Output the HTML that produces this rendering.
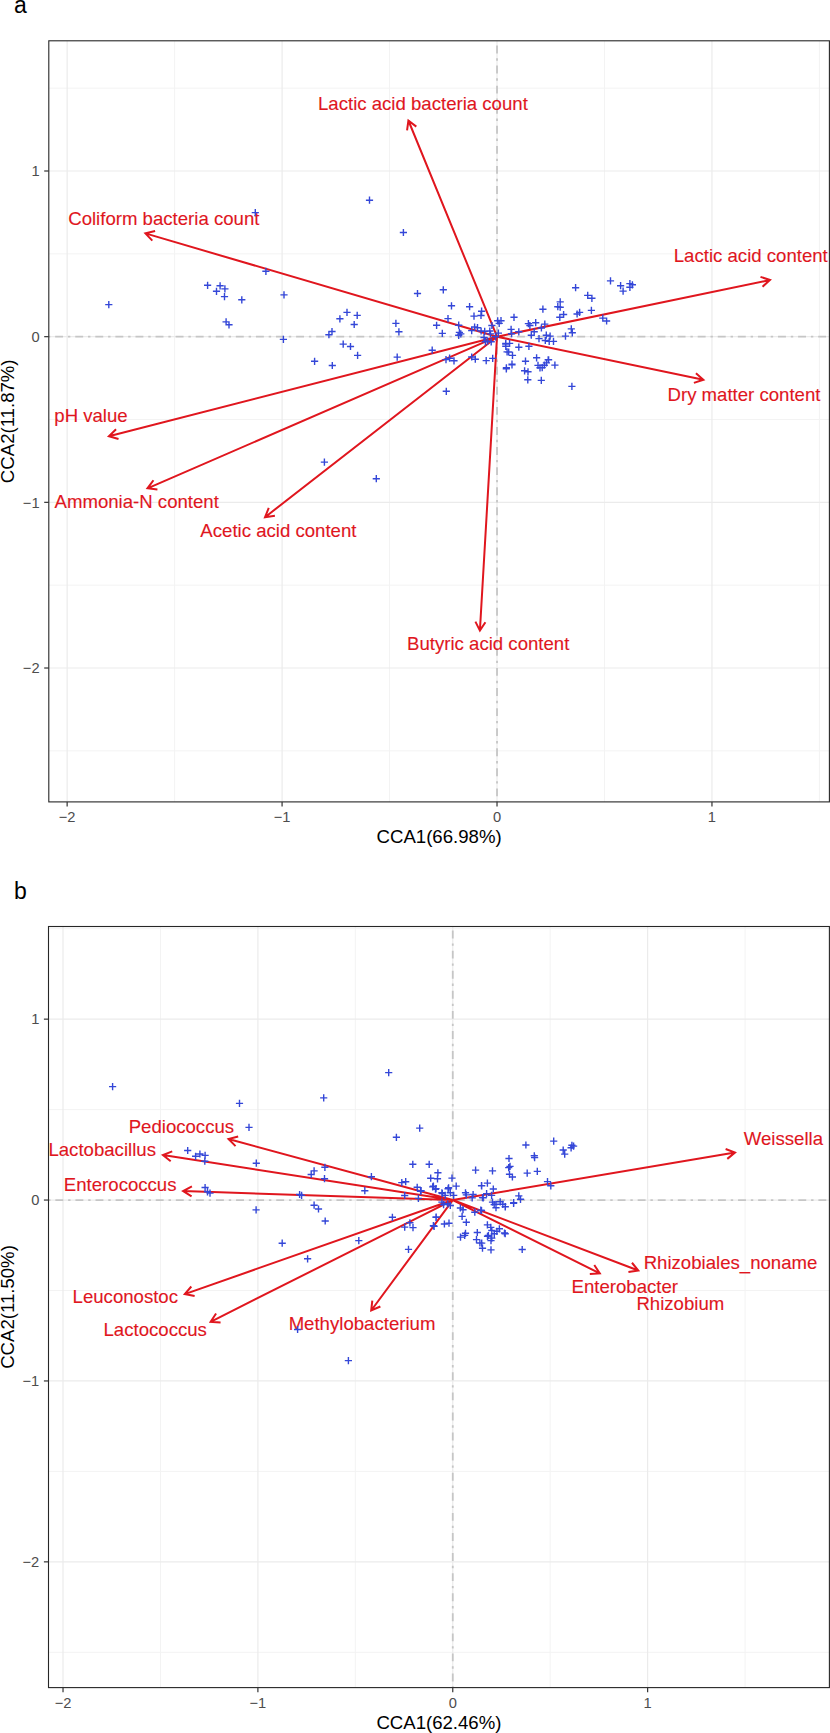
<!DOCTYPE html><html><head><meta charset="utf-8"><style>html,body{margin:0;padding:0;background:#fff;}svg{display:block}</style></head><body>
<svg width="830" height="1733" viewBox="0 0 830 1733" font-family="'Liberation Sans', sans-serif">
<rect width="830" height="1733" fill="#fff"/>
<clipPath id="clipa"><rect x="48.8" y="40.8" width="780.6" height="761.1"/></clipPath>
<g clip-path="url(#clipa)">
<line x1="174.61" y1="40.8" x2="174.61" y2="801.9" stroke="#F3F3F3" stroke-width="1"/>
<line x1="389.55" y1="40.8" x2="389.55" y2="801.9" stroke="#F3F3F3" stroke-width="1"/>
<line x1="604.49" y1="40.8" x2="604.49" y2="801.9" stroke="#F3F3F3" stroke-width="1"/>
<line x1="819.43" y1="40.8" x2="819.43" y2="801.9" stroke="#F3F3F3" stroke-width="1"/>
<line x1="48.8" y1="88.17" x2="829.4" y2="88.17" stroke="#F3F3F3" stroke-width="1"/>
<line x1="48.8" y1="253.84" x2="829.4" y2="253.84" stroke="#F3F3F3" stroke-width="1"/>
<line x1="48.8" y1="419.50" x2="829.4" y2="419.50" stroke="#F3F3F3" stroke-width="1"/>
<line x1="48.8" y1="585.17" x2="829.4" y2="585.17" stroke="#F3F3F3" stroke-width="1"/>
<line x1="48.8" y1="750.85" x2="829.4" y2="750.85" stroke="#F3F3F3" stroke-width="1"/>
<line x1="67.14" y1="40.8" x2="67.14" y2="801.9" stroke="#EBEBEB" stroke-width="1.2"/>
<line x1="282.08" y1="40.8" x2="282.08" y2="801.9" stroke="#EBEBEB" stroke-width="1.2"/>
<line x1="497.02" y1="40.8" x2="497.02" y2="801.9" stroke="#EBEBEB" stroke-width="1.2"/>
<line x1="711.96" y1="40.8" x2="711.96" y2="801.9" stroke="#EBEBEB" stroke-width="1.2"/>
<line x1="48.8" y1="171.00" x2="829.4" y2="171.00" stroke="#EBEBEB" stroke-width="1.2"/>
<line x1="48.8" y1="336.67" x2="829.4" y2="336.67" stroke="#EBEBEB" stroke-width="1.2"/>
<line x1="48.8" y1="502.34" x2="829.4" y2="502.34" stroke="#EBEBEB" stroke-width="1.2"/>
<line x1="48.8" y1="668.01" x2="829.4" y2="668.01" stroke="#EBEBEB" stroke-width="1.2"/>
<line x1="48.8" y1="336.67" x2="829.4" y2="336.67" stroke="#C6C6C6" stroke-width="1.8" stroke-dasharray="2.4 4.9 7.9 4.88" stroke-dashoffset="0.95"/>
<line x1="497.02" y1="801.9" x2="497.02" y2="40.8" stroke="#C6C6C6" stroke-width="1.8" stroke-dasharray="2.4 4.9 7.9 4.88" stroke-dashoffset="1.75"/>
<path d="M497.02 336.67L408.40 120.50M416.31 126.62L408.40 120.50L407.06 130.41M497.02 336.67L145.40 233.40M155.12 231.04L145.40 233.40L152.30 240.64M497.02 336.67L770.00 280.00M762.54 286.66L770.00 280.00L760.50 276.86M497.02 336.67L703.40 379.80M693.90 382.92L703.40 379.80L695.95 373.13M497.02 336.67L108.90 436.30M116.05 429.30L108.90 436.30L118.53 438.99M497.02 336.67L147.50 488.30M153.45 480.27L147.50 488.30L157.43 489.44M497.02 336.67L265.00 517.20M268.76 507.94L265.00 517.20L274.91 515.83M497.02 336.67L479.90 630.60M475.41 621.66L479.90 630.60L485.40 622.25" stroke="#E0161E" stroke-width="2.0" fill="none" stroke-linecap="butt" stroke-linejoin="miter"/>
<text x="422.9" y="110.4" font-size="18.6" fill="#E0161E" stroke="#E0161E" stroke-width="0.12" text-anchor="middle">Lactic acid bacteria count</text>
<text x="163.8" y="225.3" font-size="18.6" fill="#E0161E" stroke="#E0161E" stroke-width="0.12" text-anchor="middle">Coliform bacteria count</text>
<text x="750.8" y="261.8" font-size="18.6" fill="#E0161E" stroke="#E0161E" stroke-width="0.12" text-anchor="middle">Lactic acid content</text>
<text x="744.0" y="400.6" font-size="18.6" fill="#E0161E" stroke="#E0161E" stroke-width="0.12" text-anchor="middle">Dry matter content</text>
<text x="91.0" y="421.6" font-size="18.6" fill="#E0161E" stroke="#E0161E" stroke-width="0.12" text-anchor="middle">pH value</text>
<text x="136.7" y="507.6" font-size="18.6" fill="#E0161E" stroke="#E0161E" stroke-width="0.12" text-anchor="middle">Ammonia-N content</text>
<text x="278.4" y="536.5" font-size="18.6" fill="#E0161E" stroke="#E0161E" stroke-width="0.12" text-anchor="middle">Acetic acid content</text>
<text x="488.2" y="650.4" font-size="18.6" fill="#E0161E" stroke="#E0161E" stroke-width="0.12" text-anchor="middle">Butyric acid content</text>
<path d="M365.9 200.2h7.2M369.5 196.6v7.2M399.8 232.5h7.2M403.4 228.9v7.2M251.7 212.6h7.2M255.3 209.0v7.2M320.8 462.1h7.2M324.4 458.5v7.2M372.7 478.7h7.2M376.3 475.1v7.2M442.7 391.3h7.2M446.3 387.7v7.2M105.2 304.6h7.2M108.8 301.0v7.2M204.0 285.3h7.2M207.6 281.7v7.2M212.9 291.3h7.2M216.5 287.7v7.2M216.5 285.8h7.2M220.1 282.2v7.2M221.3 288.9h7.2M224.9 285.3v7.2M220.9 296.6h7.2M224.5 293.0v7.2M238.2 299.8h7.2M241.8 296.2v7.2M262.3 271.3h7.2M265.9 267.7v7.2M280.4 294.9h7.2M284.0 291.3v7.2M222.5 321.9h7.2M226.1 318.3v7.2M225.4 324.8h7.2M229.0 321.2v7.2M279.8 339.4h7.2M283.4 335.8v7.2M413.9 293.5h7.2M417.5 289.9v7.2M343.4 312.4h7.2M347.0 308.8v7.2M353.6 315.4h7.2M357.2 311.8v7.2M336.3 318.8h7.2M339.9 315.2v7.2M350.6 324.5h7.2M354.2 320.9v7.2M392.3 323.4h7.2M395.9 319.8v7.2M395.3 331.8h7.2M398.9 328.2v7.2M328.4 331.5h7.2M332.0 327.9v7.2M325.3 334.7h7.2M328.9 331.1v7.2M339.6 344.1h7.2M343.2 340.5v7.2M346.9 346.5h7.2M350.5 342.9v7.2M354.0 355.4h7.2M357.6 351.8v7.2M393.6 357.1h7.2M397.2 353.5v7.2M311.0 361.3h7.2M314.6 357.7v7.2M328.7 365.5h7.2M332.3 361.9v7.2M439.7 289.8h7.2M443.3 286.2v7.2M447.9 305.8h7.2M451.5 302.2v7.2M466.0 306.7h7.2M469.6 303.1v7.2M478.0 311.2h7.2M481.6 307.6v7.2M470.4 316.1h7.2M474.0 312.5v7.2M477.4 315.5h7.2M481.0 311.9v7.2M444.4 318.6h7.2M448.0 315.0v7.2M433.0 325.3h7.2M436.6 321.7v7.2M438.7 333.4h7.2M442.3 329.8v7.2M428.6 350.2h7.2M432.2 346.6v7.2M494.1 320.8h7.2M497.7 317.2v7.2M495.6 323.4h7.2M499.2 319.8v7.2M488.3 325.5h7.2M491.9 321.9v7.2M455.1 325.2h7.2M458.7 321.6v7.2M471.0 327.0h7.2M474.6 323.4v7.2M473.9 327.7h7.2M477.5 324.1v7.2M468.1 330.6h7.2M471.7 327.0v7.2M477.5 331.0h7.2M481.1 327.4v7.2M481.1 331.3h7.2M484.7 327.7v7.2M486.2 331.0h7.2M489.8 327.4v7.2M486.9 333.9h7.2M490.5 330.3v7.2M494.8 333.1h7.2M498.4 329.5v7.2M455.8 332.4h7.2M459.4 328.8v7.2M455.1 335.3h7.2M458.7 331.7v7.2M457.2 333.9h7.2M460.8 330.3v7.2M480.4 337.5h7.2M484.0 333.9v7.2M484.0 341.1h7.2M487.6 337.5v7.2M487.6 341.8h7.2M491.2 338.2v7.2M481.8 341.8h7.2M485.4 338.2v7.2M492.0 336.8h7.2M495.6 333.2v7.2M502.1 344.0h7.2M505.7 340.4v7.2M503.5 351.9h7.2M507.1 348.3v7.2M442.4 359.6h7.2M446.0 356.0v7.2M446.0 358.2h7.2M449.6 354.6v7.2M450.4 360.8h7.2M454.0 357.2v7.2M468.1 357.0h7.2M471.7 353.4v7.2M471.7 359.2h7.2M475.3 355.6v7.2M482.6 360.6h7.2M486.2 357.0v7.2M489.1 358.4h7.2M492.7 354.8v7.2M502.8 367.8h7.2M506.4 364.2v7.2M556.6 301.9h7.2M560.2 298.3v7.2M554.2 306.7h7.2M557.8 303.1v7.2M556.6 307.2h7.2M560.2 303.6v7.2M539.3 309.2h7.2M542.9 305.6v7.2M573.5 314.0h7.2M577.1 310.4v7.2M560.0 314.5h7.2M563.6 310.9v7.2M556.2 317.3h7.2M559.8 313.7v7.2M510.4 317.3h7.2M514.0 313.7v7.2M497.4 320.7h7.2M501.0 317.1v7.2M524.8 323.6h7.2M528.4 320.0v7.2M526.3 325.5h7.2M529.9 321.9v7.2M532.1 322.7h7.2M535.7 319.1v7.2M541.2 324.1h7.2M544.8 320.5v7.2M537.8 328.0h7.2M541.4 324.4v7.2M567.7 328.9h7.2M571.3 325.3v7.2M568.7 332.8h7.2M572.3 329.2v7.2M507.5 329.4h7.2M511.1 325.8v7.2M515.2 331.8h7.2M518.8 328.2v7.2M508.0 333.7h7.2M511.6 330.1v7.2M530.6 331.8h7.2M534.2 328.2v7.2M527.7 335.2h7.2M531.3 331.6v7.2M542.7 335.2h7.2M546.3 331.6v7.2M546.5 336.1h7.2M550.1 332.5v7.2M561.9 336.1h7.2M565.5 332.5v7.2M535.4 338.6h7.2M539.0 335.0v7.2M541.7 340.5h7.2M545.3 336.9v7.2M545.6 341.4h7.2M549.2 337.8v7.2M549.9 341.4h7.2M553.5 337.8v7.2M502.2 343.4h7.2M505.8 339.8v7.2M506.0 343.4h7.2M509.6 339.8v7.2M502.2 346.3h7.2M505.8 342.7v7.2M515.2 347.2h7.2M518.8 343.6v7.2M525.3 346.3h7.2M528.9 342.7v7.2M505.1 352.0h7.2M508.7 348.4v7.2M508.9 355.4h7.2M512.5 351.8v7.2M533.0 357.8h7.2M536.6 354.2v7.2M544.6 359.8h7.2M548.2 356.2v7.2M521.9 361.2h7.2M525.5 357.6v7.2M508.4 364.1h7.2M512.0 360.5v7.2M551.3 365.1h7.2M554.9 361.5v7.2M534.4 365.4h7.2M538.0 361.8v7.2M536.4 367.8h7.2M540.0 364.2v7.2M538.6 367.6h7.2M542.2 364.0v7.2M540.7 365.2h7.2M544.3 361.6v7.2M542.8 362.9h7.2M546.4 359.3v7.2M545.0 359.8h7.2M548.6 356.2v7.2M502.7 368.9h7.2M506.3 365.3v7.2M521.0 370.8h7.2M524.6 367.2v7.2M524.4 371.8h7.2M528.0 368.2v7.2M524.2 379.8h7.2M527.8 376.2v7.2M537.7 380.4h7.2M541.3 376.8v7.2M572.0 287.7h7.2M575.6 284.1v7.2M584.1 295.4h7.2M587.7 291.8v7.2M588.3 298.3h7.2M591.9 294.7v7.2M606.9 280.9h7.2M610.5 277.3v7.2M617.0 285.7h7.2M620.6 282.1v7.2M619.5 291.1h7.2M623.1 287.5v7.2M626.3 283.6h7.2M629.9 280.0v7.2M628.8 284.8h7.2M632.4 281.2v7.2M626.3 287.3h7.2M629.9 283.7v7.2M576.0 312.4h7.2M579.6 308.8v7.2M587.8 310.4h7.2M591.4 306.8v7.2M599.2 318.1h7.2M602.8 314.5v7.2M603.0 321.0h7.2M606.6 317.4v7.2M568.3 386.4h7.2M571.9 382.8v7.2M508.4 364.8h7.2M512.0 361.2v7.2" stroke="#3447D8" stroke-width="1.4" fill="none"/>
</g>
<rect x="48.8" y="40.8" width="780.6" height="761.1" fill="none" stroke="#262626" stroke-width="1.1"/>
<line x1="67.14" y1="801.9" x2="67.14" y2="806.5" stroke="#333" stroke-width="1.2"/>
<text x="67.14" y="821.9" font-size="14.7" fill="#4D4D4D" text-anchor="middle">−2</text>
<line x1="282.08" y1="801.9" x2="282.08" y2="806.5" stroke="#333" stroke-width="1.2"/>
<text x="282.08" y="821.9" font-size="14.7" fill="#4D4D4D" text-anchor="middle">−1</text>
<line x1="497.02" y1="801.9" x2="497.02" y2="806.5" stroke="#333" stroke-width="1.2"/>
<text x="497.02" y="821.9" font-size="14.7" fill="#4D4D4D" text-anchor="middle">0</text>
<line x1="711.96" y1="801.9" x2="711.96" y2="806.5" stroke="#333" stroke-width="1.2"/>
<text x="711.96" y="821.9" font-size="14.7" fill="#4D4D4D" text-anchor="middle">1</text>
<line x1="44.199999999999996" y1="171.00" x2="48.8" y2="171.00" stroke="#333" stroke-width="1.2"/>
<text x="39.599999999999994" y="176.20" font-size="14.7" fill="#4D4D4D" text-anchor="end">1</text>
<line x1="44.199999999999996" y1="336.67" x2="48.8" y2="336.67" stroke="#333" stroke-width="1.2"/>
<text x="39.599999999999994" y="341.87" font-size="14.7" fill="#4D4D4D" text-anchor="end">0</text>
<line x1="44.199999999999996" y1="502.34" x2="48.8" y2="502.34" stroke="#333" stroke-width="1.2"/>
<text x="39.599999999999994" y="507.54" font-size="14.7" fill="#4D4D4D" text-anchor="end">−1</text>
<line x1="44.199999999999996" y1="668.01" x2="48.8" y2="668.01" stroke="#333" stroke-width="1.2"/>
<text x="39.599999999999994" y="673.21" font-size="14.7" fill="#4D4D4D" text-anchor="end">−2</text>
<text x="439.1" y="843.0" font-size="18.6" fill="#000" text-anchor="middle">CCA1(66.98%)</text>
<text transform="translate(14.4 421.3) rotate(-90)" x="0" y="0" font-size="18.6" fill="#000" text-anchor="middle">CCA2(11.87%)</text>
<text x="14" y="13" font-size="23" fill="#000">a</text>
<clipPath id="clipb"><rect x="48.5" y="926.5" width="780.9" height="761.0999999999999"/></clipPath>
<g clip-path="url(#clipb)">
<line x1="160.45" y1="926.5" x2="160.45" y2="1687.6" stroke="#F3F3F3" stroke-width="1"/>
<line x1="355.32" y1="926.5" x2="355.32" y2="1687.6" stroke="#F3F3F3" stroke-width="1"/>
<line x1="550.19" y1="926.5" x2="550.19" y2="1687.6" stroke="#F3F3F3" stroke-width="1"/>
<line x1="745.07" y1="926.5" x2="745.07" y2="1687.6" stroke="#F3F3F3" stroke-width="1"/>
<line x1="48.5" y1="928.70" x2="829.4" y2="928.70" stroke="#F3F3F3" stroke-width="1"/>
<line x1="48.5" y1="1109.60" x2="829.4" y2="1109.60" stroke="#F3F3F3" stroke-width="1"/>
<line x1="48.5" y1="1290.50" x2="829.4" y2="1290.50" stroke="#F3F3F3" stroke-width="1"/>
<line x1="48.5" y1="1471.40" x2="829.4" y2="1471.40" stroke="#F3F3F3" stroke-width="1"/>
<line x1="48.5" y1="1652.30" x2="829.4" y2="1652.30" stroke="#F3F3F3" stroke-width="1"/>
<line x1="63.02" y1="926.5" x2="63.02" y2="1687.6" stroke="#EBEBEB" stroke-width="1.2"/>
<line x1="257.89" y1="926.5" x2="257.89" y2="1687.6" stroke="#EBEBEB" stroke-width="1.2"/>
<line x1="452.76" y1="926.5" x2="452.76" y2="1687.6" stroke="#EBEBEB" stroke-width="1.2"/>
<line x1="647.63" y1="926.5" x2="647.63" y2="1687.6" stroke="#EBEBEB" stroke-width="1.2"/>
<line x1="48.5" y1="1019.15" x2="829.4" y2="1019.15" stroke="#EBEBEB" stroke-width="1.2"/>
<line x1="48.5" y1="1200.05" x2="829.4" y2="1200.05" stroke="#EBEBEB" stroke-width="1.2"/>
<line x1="48.5" y1="1380.95" x2="829.4" y2="1380.95" stroke="#EBEBEB" stroke-width="1.2"/>
<line x1="48.5" y1="1561.85" x2="829.4" y2="1561.85" stroke="#EBEBEB" stroke-width="1.2"/>
<line x1="48.5" y1="1200.05" x2="829.4" y2="1200.05" stroke="#C6C6C6" stroke-width="1.8" stroke-dasharray="2.4 4.9 7.9 4.88" stroke-dashoffset="0.45"/>
<line x1="452.76" y1="1687.6" x2="452.76" y2="926.5" stroke="#C6C6C6" stroke-width="1.8" stroke-dasharray="2.4 4.9 7.9 4.88" stroke-dashoffset="1.15"/>
<path d="M452.76 1200.05L228.50 1139.00M238.17 1136.45L228.50 1139.00L235.54 1146.10M452.76 1200.05L162.90 1155.00M172.23 1151.39L162.90 1155.00L170.69 1161.27M452.76 1200.05L183.10 1191.10M191.92 1186.39L183.10 1191.10L191.59 1196.38M452.76 1200.05L735.00 1152.50M727.29 1158.87L735.00 1152.50L725.63 1149.01M452.76 1200.05L638.30 1270.50M628.43 1272.10L638.30 1270.50L631.98 1262.75M452.76 1200.05L599.80 1273.40M589.82 1274.01L599.80 1273.40L594.28 1265.06M452.76 1200.05L184.80 1294.10M191.32 1286.51L184.80 1294.10L194.63 1295.95M452.76 1200.05L210.60 1321.80M216.09 1313.44L210.60 1321.80L220.58 1322.38M452.76 1200.05L371.20 1310.50M372.32 1300.56L371.20 1310.50L380.37 1306.50" stroke="#E0161E" stroke-width="2.0" fill="none" stroke-linecap="butt" stroke-linejoin="miter"/>
<text x="181.4" y="1133.3" font-size="18.6" fill="#E0161E" stroke="#E0161E" stroke-width="0.12" text-anchor="middle">Pediococcus</text>
<text x="102.2" y="1156.4" font-size="18.6" fill="#E0161E" stroke="#E0161E" stroke-width="0.12" text-anchor="middle">Lactobacillus</text>
<text x="120.2" y="1190.5" font-size="18.6" fill="#E0161E" stroke="#E0161E" stroke-width="0.12" text-anchor="middle">Enterococcus</text>
<text x="783.4" y="1145.4" font-size="18.6" fill="#E0161E" stroke="#E0161E" stroke-width="0.12" text-anchor="middle">Weissella</text>
<text x="730.5" y="1268.8" font-size="18.6" fill="#E0161E" stroke="#E0161E" stroke-width="0.12" text-anchor="middle">Rhizobiales_noname</text>
<text x="624.8" y="1292.9" font-size="18.6" fill="#E0161E" stroke="#E0161E" stroke-width="0.12" text-anchor="middle">Enterobacter</text>
<text x="680.3" y="1310.2" font-size="18.6" fill="#E0161E" stroke="#E0161E" stroke-width="0.12" text-anchor="middle">Rhizobium</text>
<text x="125.3" y="1302.5" font-size="18.6" fill="#E0161E" stroke="#E0161E" stroke-width="0.12" text-anchor="middle">Leuconostoc</text>
<text x="155.2" y="1336.3" font-size="18.6" fill="#E0161E" stroke="#E0161E" stroke-width="0.12" text-anchor="middle">Lactococcus</text>
<text x="362.0" y="1330.2" font-size="18.6" fill="#E0161E" stroke="#E0161E" stroke-width="0.12" text-anchor="middle">Methylobacterium</text>
<path d="M109.0 1086.6h7.2M112.6 1083.0v7.2M235.9 1103.4h7.2M239.5 1099.8v7.2M245.4 1127.4h7.2M249.0 1123.8v7.2M184.1 1150.5h7.2M187.7 1146.9v7.2M192.0 1156.3h7.2M195.6 1152.7v7.2M196.3 1154.0h7.2M199.9 1150.4v7.2M201.5 1155.4h7.2M205.1 1151.8v7.2M201.2 1161.2h7.2M204.8 1157.6v7.2M252.7 1163.2h7.2M256.3 1159.6v7.2M201.5 1187.5h7.2M205.1 1183.9v7.2M203.9 1191.8h7.2M207.5 1188.2v7.2M206.4 1193.1h7.2M210.0 1189.5v7.2M252.5 1209.9h7.2M256.1 1206.3v7.2M320.1 1097.9h7.2M323.7 1094.3v7.2M321.3 1167.3h7.2M324.9 1163.7v7.2M310.5 1170.9h7.2M314.1 1167.3v7.2M307.6 1174.5h7.2M311.2 1170.9v7.2M320.9 1178.7h7.2M324.5 1175.1v7.2M296.0 1194.5h7.2M299.6 1190.9v7.2M298.0 1195.4h7.2M301.6 1191.8v7.2M310.5 1205.2h7.2M314.1 1201.6v7.2M314.9 1209.0h7.2M318.5 1205.4v7.2M321.6 1221.0h7.2M325.2 1217.4v7.2M278.6 1243.2h7.2M282.2 1239.6v7.2M304.0 1258.8h7.2M307.6 1255.2v7.2M385.1 1072.6h7.2M388.7 1069.0v7.2M416.1 1128.1h7.2M419.7 1124.5v7.2M392.8 1137.3h7.2M396.4 1133.7v7.2M409.2 1164.3h7.2M412.8 1160.7v7.2M425.6 1164.3h7.2M429.2 1160.7v7.2M434.3 1172.8h7.2M437.9 1169.2v7.2M427.1 1178.2h7.2M430.7 1174.6v7.2M433.9 1178.8h7.2M437.5 1175.2v7.2M367.8 1176.7h7.2M371.4 1173.1v7.2M361.2 1190.7h7.2M364.8 1187.1v7.2M398.2 1182.6h7.2M401.8 1179.0v7.2M402.1 1181.7h7.2M405.7 1178.1v7.2M413.6 1187.3h7.2M417.2 1183.7v7.2M417.5 1190.7h7.2M421.1 1187.1v7.2M401.1 1195.5h7.2M404.7 1191.9v7.2M414.8 1198.4h7.2M418.4 1194.8v7.2M417.0 1191.3h7.2M420.6 1187.7v7.2M429.1 1186.9h7.2M432.7 1183.3v7.2M431.9 1189.2h7.2M435.5 1185.6v7.2M438.7 1193.6h7.2M442.3 1190.0v7.2M444.5 1188.8h7.2M448.1 1185.2v7.2M448.4 1178.1h7.2M452.0 1174.5v7.2M472.0 1170.1h7.2M475.6 1166.5v7.2M452.6 1186.1h7.2M456.2 1182.5v7.2M429.8 1186.1h7.2M433.4 1182.5v7.2M432.4 1188.6h7.2M436.0 1185.0v7.2M445.0 1187.8h7.2M448.6 1184.2v7.2M446.7 1192.8h7.2M450.3 1189.2v7.2M438.3 1192.8h7.2M441.9 1189.2v7.2M450.1 1195.4h7.2M453.7 1191.8v7.2M441.6 1195.4h7.2M445.2 1191.8v7.2M477.9 1185.7h7.2M481.5 1182.1v7.2M483.8 1183.1h7.2M487.4 1179.5v7.2M489.7 1189.0h7.2M493.3 1185.4v7.2M461.9 1192.8h7.2M465.5 1189.2v7.2M462.7 1194.9h7.2M466.3 1191.3v7.2M469.5 1194.5h7.2M473.1 1190.9v7.2M468.6 1197.9h7.2M472.2 1194.3v7.2M479.6 1197.9h7.2M483.2 1194.3v7.2M483.0 1193.7h7.2M486.6 1190.1v7.2M488.0 1195.4h7.2M491.6 1191.8v7.2M488.9 1202.1h7.2M492.5 1198.5v7.2M490.6 1204.6h7.2M494.2 1201.0v7.2M438.3 1202.1h7.2M441.9 1198.5v7.2M440.0 1204.6h7.2M443.6 1201.0v7.2M444.2 1203.8h7.2M447.8 1200.2v7.2M446.7 1205.5h7.2M450.3 1201.9v7.2M456.8 1208.0h7.2M460.4 1204.4v7.2M459.4 1209.7h7.2M463.0 1206.1v7.2M471.2 1212.2h7.2M474.8 1208.6v7.2M477.9 1210.5h7.2M481.5 1206.9v7.2M458.5 1216.4h7.2M462.1 1212.8v7.2M432.4 1217.3h7.2M436.0 1213.7v7.2M462.7 1222.3h7.2M466.3 1218.7v7.2M440.8 1224.0h7.2M444.4 1220.4v7.2M445.4 1223.2h7.2M449.0 1219.6v7.2M429.8 1225.7h7.2M433.4 1222.1v7.2M483.8 1224.9h7.2M487.4 1221.3v7.2M487.2 1227.4h7.2M490.8 1223.8v7.2M461.9 1233.3h7.2M465.5 1229.7v7.2M473.7 1232.5h7.2M477.3 1228.9v7.2M550.1 1141.1h7.2M553.7 1137.5v7.2M522.3 1145.0h7.2M525.9 1141.4v7.2M559.6 1150.0h7.2M563.2 1146.4v7.2M561.1 1154.1h7.2M564.7 1150.5v7.2M567.5 1147.8h7.2M571.1 1144.2v7.2M570.0 1146.1h7.2M573.6 1142.5v7.2M568.3 1145.3h7.2M571.9 1141.7v7.2M530.7 1155.8h7.2M534.3 1152.2v7.2M531.0 1157.6h7.2M534.6 1154.0v7.2M505.4 1158.5h7.2M509.0 1154.9v7.2M505.1 1167.6h7.2M508.7 1164.0v7.2M506.4 1166.4h7.2M510.0 1162.8v7.2M488.9 1170.9h7.2M492.5 1167.3v7.2M523.6 1173.1h7.2M527.2 1169.5v7.2M533.7 1171.4h7.2M537.3 1167.8v7.2M505.9 1174.3h7.2M509.5 1170.7v7.2M508.8 1177.0h7.2M512.4 1173.4v7.2M543.9 1181.6h7.2M547.5 1178.0v7.2M547.2 1185.8h7.2M550.8 1182.2v7.2M478.1 1185.8h7.2M481.7 1182.2v7.2M478.9 1197.6h7.2M482.5 1194.0v7.2M515.2 1195.9h7.2M518.8 1192.3v7.2M516.9 1199.3h7.2M520.5 1195.7v7.2M510.1 1202.6h7.2M513.7 1199.0v7.2M492.4 1204.3h7.2M496.0 1200.7v7.2M496.6 1201.8h7.2M500.2 1198.2v7.2M499.2 1204.3h7.2M502.8 1200.7v7.2M501.7 1206.9h7.2M505.3 1203.3v7.2M492.4 1207.7h7.2M496.0 1204.1v7.2M477.2 1210.2h7.2M480.8 1206.6v7.2M488.2 1230.5h7.2M491.8 1226.9v7.2M493.3 1231.3h7.2M496.9 1227.7v7.2M495.8 1228.8h7.2M499.4 1225.2v7.2M500.9 1233.0h7.2M504.5 1229.4v7.2M484.8 1235.5h7.2M488.4 1231.9v7.2M488.2 1238.1h7.2M491.8 1234.5v7.2M490.7 1233.8h7.2M494.3 1230.2v7.2M487.4 1240.6h7.2M491.0 1237.0v7.2M478.1 1243.1h7.2M481.7 1239.5v7.2M478.9 1248.2h7.2M482.5 1244.6v7.2M487.4 1249.9h7.2M491.0 1246.3v7.2M518.6 1249.5h7.2M522.2 1245.9v7.2M456.9 1237.1h7.2M460.5 1233.5v7.2M461.1 1235.4h7.2M464.7 1231.8v7.2M472.9 1239.6h7.2M476.5 1236.0v7.2M476.3 1243.0h7.2M479.9 1239.4v7.2M483.9 1236.3h7.2M487.5 1232.7v7.2M501.6 1233.7h7.2M505.2 1230.1v7.2M501.6 1206.7h7.2M505.2 1203.1v7.2M510.0 1203.4h7.2M513.6 1199.8v7.2M355.2 1240.6h7.2M358.8 1237.0v7.2M388.8 1217.3h7.2M392.4 1213.7v7.2M401.1 1227.1h7.2M404.7 1223.5v7.2M406.3 1222.8h7.2M409.9 1219.2v7.2M409.4 1227.6h7.2M413.0 1224.0v7.2M404.9 1249.4h7.2M408.5 1245.8v7.2M432.6 1217.0h7.2M436.2 1213.4v7.2M430.5 1226.3h7.2M434.1 1222.7v7.2M294.0 1329.5h7.2M297.6 1325.9v7.2M344.8 1360.6h7.2M348.4 1357.0v7.2" stroke="#3447D8" stroke-width="1.4" fill="none"/>
</g>
<rect x="48.5" y="926.5" width="780.9" height="761.0999999999999" fill="none" stroke="#262626" stroke-width="1.1"/>
<line x1="63.02" y1="1687.6" x2="63.02" y2="1692.1999999999998" stroke="#333" stroke-width="1.2"/>
<text x="63.02" y="1707.6" font-size="14.7" fill="#4D4D4D" text-anchor="middle">−2</text>
<line x1="257.89" y1="1687.6" x2="257.89" y2="1692.1999999999998" stroke="#333" stroke-width="1.2"/>
<text x="257.89" y="1707.6" font-size="14.7" fill="#4D4D4D" text-anchor="middle">−1</text>
<line x1="452.76" y1="1687.6" x2="452.76" y2="1692.1999999999998" stroke="#333" stroke-width="1.2"/>
<text x="452.76" y="1707.6" font-size="14.7" fill="#4D4D4D" text-anchor="middle">0</text>
<line x1="647.63" y1="1687.6" x2="647.63" y2="1692.1999999999998" stroke="#333" stroke-width="1.2"/>
<text x="647.63" y="1707.6" font-size="14.7" fill="#4D4D4D" text-anchor="middle">1</text>
<line x1="43.9" y1="1019.15" x2="48.5" y2="1019.15" stroke="#333" stroke-width="1.2"/>
<text x="39.3" y="1024.35" font-size="14.7" fill="#4D4D4D" text-anchor="end">1</text>
<line x1="43.9" y1="1200.05" x2="48.5" y2="1200.05" stroke="#333" stroke-width="1.2"/>
<text x="39.3" y="1205.25" font-size="14.7" fill="#4D4D4D" text-anchor="end">0</text>
<line x1="43.9" y1="1380.95" x2="48.5" y2="1380.95" stroke="#333" stroke-width="1.2"/>
<text x="39.3" y="1386.15" font-size="14.7" fill="#4D4D4D" text-anchor="end">−1</text>
<line x1="43.9" y1="1561.85" x2="48.5" y2="1561.85" stroke="#333" stroke-width="1.2"/>
<text x="39.3" y="1567.05" font-size="14.7" fill="#4D4D4D" text-anchor="end">−2</text>
<text x="438.9" y="1729" font-size="18.6" fill="#000" text-anchor="middle">CCA1(62.46%)</text>
<text transform="translate(14.4 1307.0) rotate(-90)" x="0" y="0" font-size="18.6" fill="#000" text-anchor="middle">CCA2(11.50%)</text>
<text x="14" y="898.7" font-size="23" fill="#000">b</text>
</svg></body></html>
